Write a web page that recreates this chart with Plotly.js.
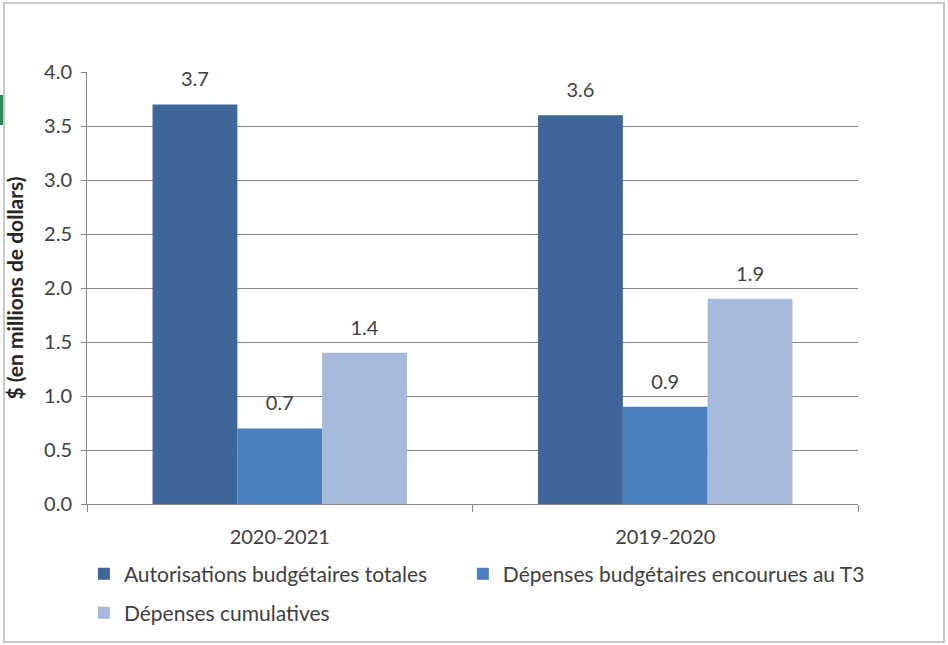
<!DOCTYPE html>
<html>
<head>
<meta charset="utf-8">
<script src="https://cdn.plot.ly/plotly-3.0.1.min.js"></script>
<style>
  html, body { margin:0; padding:0; background:#fff; }
  #chart { width:948px; height:645px; }
  #frame { position:absolute; left:3px; top:2px; width:938px; height:637px; border:2px solid #c9c9c9; pointer-events:none; }
  #mark { position:absolute; left:0; top:95px; width:3px; height:30px; background:#2e8b57; }
</style>
</head>
<body>
<div id="chart"></div>
<div id="frame"></div>
<div id="mark"></div>
<script>
const categories = ['2020-2021', '2019-2020'];
const autorisations = [3.7, 3.6];
const depensesT3 = [0.7, 0.9];
const depensesCumul = [1.4, 1.9];
const seriesNames = ['Autorisations budgétaires totales', 'Dépenses budgétaires encourues au T3', 'Dépenses cumulatives'];
const yTicks = [0, 0.5, 1, 1.5, 2, 2.5, 3, 3.5, 4];

const colors = ['#3E6699', '#4A7EBF', '#A7B9DA'];
const txtColor = '#404040';
const fam = 'Lato, "Open Sans", sans-serif';

function mk(vals, i, legend) {
  return {
    type: 'bar', x: categories, y: vals, name: seriesNames[i],
    marker: { color: colors[i] },
    texttemplate: '<span style="font-size:20px">%{y:.1f}</span><br> ', textposition: 'outside',
    constraintext: 'none',
    textfont: { family: fam, size: 10, color: txtColor },
    cliponaxis: false, hoverinfo: 'skip', legend: legend
  };
}

const data = [mk(autorisations, 0, 'legend'), mk(depensesT3, 1, 'legend2'), mk(depensesCumul, 2, 'legend3')];

const legendFont = { family: fam, size: 21, color: txtColor };

const layout = {
  width: 948, height: 645,
  margin: { l: 87, r: 90, t: 72, b: 136 },
  paper_bgcolor: '#fff', plot_bgcolor: '#fff',
  font: { family: fam, size: 19, color: txtColor },
  barmode: 'group', bargap: 0.34, bargroupgap: 0,
  xaxis: {
    type: 'category', tickson: 'boundaries', ticks: 'outside', ticklen: 7, tickcolor: '#868686',
    showline: true, linecolor: '#868686', linewidth: 1, showgrid: false,
    ticklabelstandoff: 15,
    tickfont: { family: fam, size: 20, color: txtColor }
  },
  yaxis: {
    range: [0, 4], tickvals: yTicks, tickformat: '.1f', ticks: 'outside', ticklen: 5, tickcolor: '#868686',
    showline: true, linecolor: '#868686', linewidth: 1,
    showgrid: true, gridcolor: '#868686', gridwidth: 1, zeroline: false,
    ticklabelstandoff: 5,
    tickfont: { family: fam, size: 20, color: txtColor },
    title: { text: '$ (en millions de dollars)', font: { family: fam, size: 21, color: '#262626', weight: 'bold' }, standoff: 14 }
  },
  showlegend: true,
  legend: {
    orientation: 'h', x: -0.004, xanchor: 'left', y: -0.115, yanchor: 'top',
    font: legendFont, bgcolor: 'rgba(0,0,0,0)'
  },
  legend2: {
    orientation: 'h', x: 0.4875, xanchor: 'left', y: -0.115, yanchor: 'top',
    font: legendFont, bgcolor: 'rgba(0,0,0,0)'
  },
  legend3: {
    orientation: 'h', x: -0.004, xanchor: 'left', y: -0.205, yanchor: 'top',
    font: legendFont, bgcolor: 'rgba(0,0,0,0)'
  }
};

Plotly.newPlot('chart', data, layout, { displayModeBar: false, staticPlot: true });
</script>
</body>
</html>
